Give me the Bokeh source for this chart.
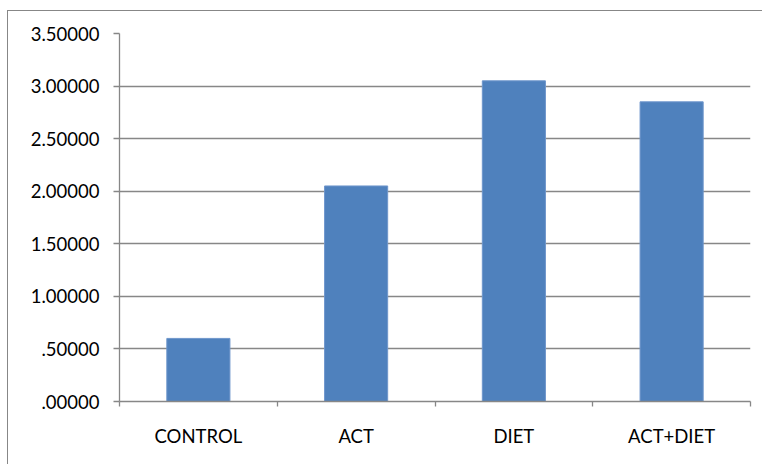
from bokeh.plotting import figure
from bokeh.models import Range1d, FixedTicker, CustomJSTickFormatter, ColumnDataSource
from bokeh.embed import file_html
from bokeh.resources import INLINE

categories = ["CONTROL", "ACT", "DIET", "ACT+DIET"]
values = [0.60, 2.05, 3.05, 2.85]
y_ticks = [0.0, 0.5, 1.0, 1.5, 2.0, 2.5, 3.0, 3.5]

positions = [i + 0.5 for i in range(len(categories))]
src = ColumnDataSource(dict(x=positions, top=values, cat=categories))

grey = "#878787"
font = "Lato"

p = figure(width=755, height=454, output_backend="svg", toolbar_location=None,
           x_range=Range1d(0, len(categories)), y_range=Range1d(0, 3.5),
           min_border_left=111, min_border_right=13, min_border_top=22, min_border_bottom=64)
p.margin = (10, 0, 0, 7)
p.styles = {"border-left": "1px solid " + grey, "border-top": "1px solid " + grey}

p.vbar(x="x", top="top", bottom=0, width=0.4, source=src,
       fill_color="#4F81BD", line_color="#6E96CC", line_width=1)

p.outline_line_color = None
p.xgrid.grid_line_color = None
p.ygrid.grid_line_color = grey
p.ygrid.grid_line_width = 1.3
p.ygrid.ticker = FixedTicker(ticks=y_ticks)

# y axis
p.yaxis.ticker = FixedTicker(ticks=y_ticks)
p.yaxis.formatter = CustomJSTickFormatter(code="return tick.toFixed(5).replace(/^0/, '');")
p.yaxis.axis_line_color = grey
p.yaxis.axis_line_width = 1.3
p.yaxis.major_tick_line_color = grey
p.yaxis.major_tick_line_width = 1.3
p.yaxis.major_tick_in = 0
p.yaxis.major_tick_out = 6
p.yaxis.minor_tick_line_color = None
p.yaxis.major_label_text_font = font
p.yaxis.major_label_text_font_size = "18.5px"
p.yaxis.major_label_text_color = "#000000"
p.yaxis.major_label_standoff = 14

# x axis: labels at centres, ticks at category boundaries
p.xaxis.ticker = FixedTicker(ticks=positions,
                             minor_ticks=list(range(len(categories) + 1)))
p.xaxis.formatter = CustomJSTickFormatter(args=dict(labels=categories),
                                          code="return labels[Math.floor(tick)];")
p.xaxis.axis_line_color = grey
p.xaxis.axis_line_width = 1.3
p.xaxis.major_tick_line_color = None
p.xaxis.minor_tick_line_color = grey
p.xaxis.minor_tick_line_width = 1.3
p.xaxis.minor_tick_in = 0
p.xaxis.minor_tick_out = 5
p.xaxis.major_label_text_font = font
p.xaxis.major_label_text_font_size = "18.5px"
p.xaxis.major_label_text_color = "#000000"
p.xaxis.major_label_standoff = 17

open("out.html", "w").write(file_html(p, INLINE))
